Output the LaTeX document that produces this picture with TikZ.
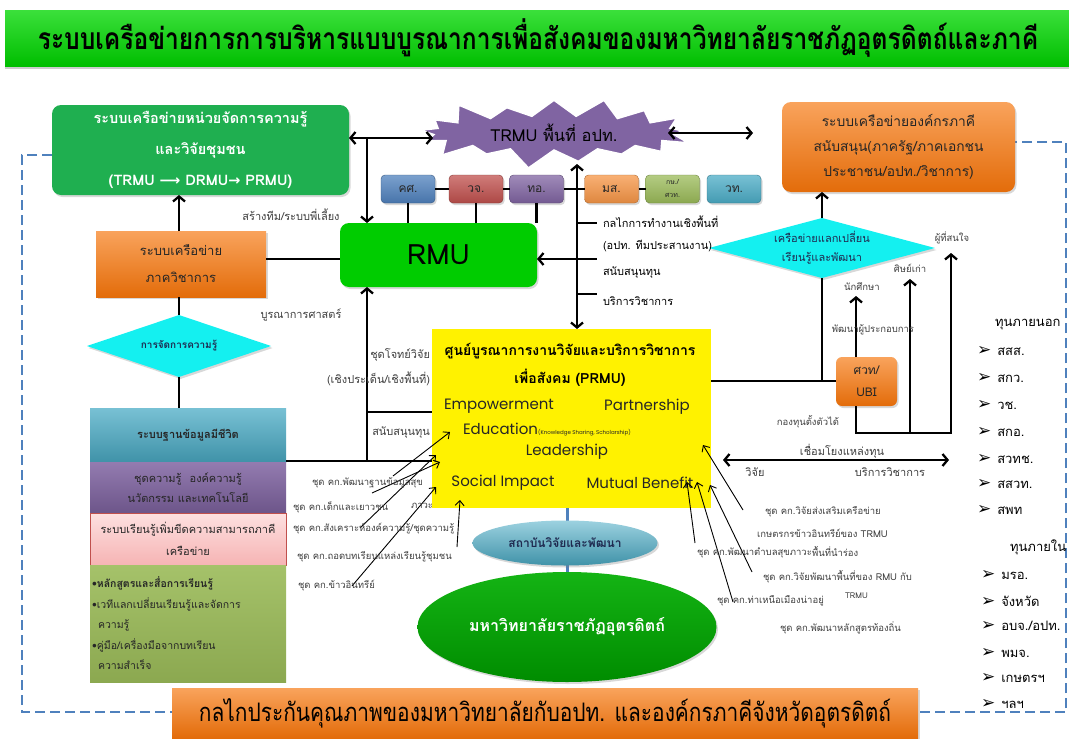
\documentclass[tikz,border=0pt]{standalone}
\usepackage{fontspec}
\setmainfont{Loma}[Script=Thai]
\newfontfamily\engfont{Poppins}
\newfontfamily\symfont{DejaVu Sans}
\newfontfamily\condfont{Loma}[Script=Thai,FakeStretch=0.82]
\usetikzlibrary{shapes.geometric,shapes.symbols,arrows.meta,shadows}
\definecolor{tgreenA}{HTML}{3BE03B}
\definecolor{tgreenB}{HTML}{00BE00}
\definecolor{kmgreen}{HTML}{1FAF50}
\definecolor{rmugreen}{HTML}{00CC00}
\definecolor{orangeA}{HTML}{F9A35C}
\definecolor{orangeB}{HTML}{E36C0A}
\definecolor{orangeC}{HTML}{F79646}
\definecolor{purp}{HTML}{8064A2}
\definecolor{blueA}{HTML}{4F81BD}
\definecolor{redA}{HTML}{C0504D}
\definecolor{oliveA}{HTML}{9BBB59}
\definecolor{aqua}{HTML}{4BACC6}
\definecolor{cyanD}{HTML}{14F0F0}
\definecolor{lblc}{HTML}{404040}
\definecolor{darktxt}{HTML}{262626}
\definecolor{navytxt}{HTML}{1F2A50}
\definecolor{pinkA}{HTML}{FDE0E0}
\definecolor{pinkB}{HTML}{F6B4B4}
\definecolor{ugreenA}{HTML}{14B414}
\definecolor{ugreenB}{HTML}{008C00}
\tikzset{
  x=1pt,y=-1pt,
  every node/.style={inner sep=0pt,outer sep=0pt,align=center},
  lbl/.style={font=\fontsize{11}{13}\selectfont,text=lblc},
  slbl/.style={font=\fontsize{9.5}{11}\selectfont,text=lblc},
  fundtxt/.style={anchor=west,font=\fontsize{13}{15}\selectfont,text=black},
  eng/.style={font=\engfont\fontsize{15}{17}\selectfont,text=darktxt},
  conn/.style={line width=2.3pt,black},
  arr/.style={conn,-{Straight Barb[length=5pt,width=12pt]}},
  darr/.style={conn,{Straight Barb[length=5pt,width=12pt]}-{Straight Barb[length=5pt,width=12pt]}},
  farr/.style={line width=0.9pt,black,-{Straight Barb[length=5pt,width=9pt]}},
  shad/.style={drop shadow={opacity=0.3,shadow xshift=1.5pt,shadow yshift=-2pt}},
  btn/.style={rounded corners=4pt,minimum width=54pt,minimum height=28pt,draw=#1!70!black,line width=0.4pt,top color=#1!75!white,bottom color=#1!90!black,font=\fontsize{12}{14}\selectfont,text=darktxt,shad},
}
\newcommand{\arrowmark}{{\symfont\fontsize{17}{15}\selectfont ➢}\hspace{6pt}}
\begin{document}
\begin{tikzpicture}
\useasboundingbox (0,0) rectangle (1069,739);
\fill[white] (0,0) rectangle (1069,739);
% dashed frame
\draw[blueA,line width=2.6pt,dash pattern=on 10pt off 5pt] (52,155) -- (22,155) -- (22,712) -- (1066,712) -- (1066,142) -- (1015,142);

% title
\node[minimum width=1066pt,minimum height=56pt,top color=tgreenA,bottom color=tgreenB,drop shadow={opacity=0.4,shadow xshift=0pt,shadow yshift=-2.5pt},font=\condfont\bfseries\fontsize{30}{32}\selectfont,text=black] (title) at (538,38) {ระบบเครือข่ายการการบริหารแบบบูรณาการเพื่อสังคมของมหาวิทยาลัยราชภัฏอุตรดิตถ์และภาคี};

% main boxes
\node[rounded corners=9pt,minimum width=297pt,minimum height=90pt,fill=kmgreen,shad,text=white,font=\bfseries\fontsize{14.5}{31}\selectfont] (km) at (200.5,150) {ระบบเครือข่ายหน่วยจัดการความรู้\\และวิจัยชุมชน\\(TRMU {\symfont ⟶} DRMU{\symfont →} PRMU)};
\node[starburst,starburst points=17,starburst point height=22pt,minimum width=285pt,minimum height=78pt,fill=purp,draw=white,line width=1.5pt,font=\fontsize{16.5}{18}\selectfont,text=black] (star) at (554,133) {TRMU พื้นที่ อปท.};
\node[rounded corners=9pt,minimum width=233pt,minimum height=90pt,top color=orangeA,bottom color=orangeB,shad,font=\fontsize{13.8}{25}\selectfont,text=darktxt] (part) at (898.5,147) {ระบบเครือข่ายองค์กรภาคี\\สนับสนุน(ภาครัฐ/ภาคเอกชน\\ประชาชน/อปท./วิชาการ)};

\node[btn=blueA] (b1) at (408,189) {คศ.};
\node[btn=redA] (b2) at (476,189) {วจ.};
\node[btn=purp] (b3) at (536.5,189) {ทอ.};
\node[btn=orangeC] (b4) at (611.5,189) {มส.};
\node[btn=oliveA,font=\fontsize{7}{13}\selectfont] (b5) at (672.5,189) {กษ./\\ศวท.};
\node[btn=aqua] (b6) at (734,189) {วท.};

\node[rounded corners=9pt,minimum width=197pt,minimum height=64pt,fill=rmugreen,shad,font=\fontsize{28}{30}\selectfont,text=black] (rmu) at (438.5,255) {RMU};
\node[minimum width=170pt,minimum height=66pt,top color=orangeA,bottom color=orangeB,shad,font=\fontsize{13}{27}\selectfont,text=darktxt] (acad) at (181,264) {ระบบเครือข่าย\\ภาควิชาการ};
\node[diamond,aspect=3,minimum width=184pt,minimum height=62pt,fill=cyanD,shad,font=\bfseries\fontsize{10}{12}\selectfont,text=navytxt] (kmd) at (179,346) {การจัดการความรู้};

% left stack
\node[minimum width=196pt,minimum height=54pt,top color=aqua!75!white,bottom color=aqua!85!black,font=\bfseries\fontsize{11}{13}\selectfont,text=darktxt] (s1) at (188,435) {ระบบฐานข้อมูลมีชีวิต};
\node[minimum width=196pt,minimum height=51pt,top color=purp!85!white,bottom color=purp!85!black,font=\fontsize{11}{20}\selectfont,text=darktxt] (s2) at (188,487.5) {ชุดความรู้\hspace{8pt}องค์ความรู้\\นวัตกรรม และเทคโนโลยี};
\node[minimum width=196pt,minimum height=52pt,top color=pinkA,bottom color=pinkB,draw=redA,line width=0.8pt,font=\fontsize{11}{22}\selectfont,text=darktxt] (s3) at (188,539) {ระบบเรียนรู้เพิ่มขีดความสามารถภาคี\\เครือข่าย};
\node[minimum width=196pt,minimum height=117pt,top color=oliveA!90!white,bottom color=oliveA!90!black,text width=192pt,align=left,font=\fontsize{10.5}{20.5}\selectfont,text=darktxt] (s4) at (188,623.5) {{\bfseries •หลักสูตรและสื่อการเรียนรู้}\\•เวทีแลกเปลี่ยนเรียนรู้และจัดการ\\\hspace*{6pt}ความรู้\\•คู่มือ/เครื่องมือจากบทเรียน\\\hspace*{6pt}ความสำเร็จ};

% yellow center
\node[minimum width=279pt,minimum height=179pt,fill=yellow] (prmu) at (571.5,418.5) {};
\node[font=\bfseries\fontsize{14}{16}\selectfont,text=black] (p1) at (570,351) {ศูนย์บูรณาการงานวิจัยและบริการวิชาการ};
\node[font=\bfseries\fontsize{14}{16}\selectfont,text=black] (p2) at (570,378) {เพื่อสังคม (PRMU)};
\node[eng,anchor=west] (e1) at (444,406) {Empowerment};
\node[eng] (e2) at (647,407) {Partnership};
\node[eng,anchor=west] (e3) at (463,430) {Education{\fontsize{5.5}{6}\selectfont(Knowledge Sharing, Scholarship)}};
\node[eng] (e4) at (567,452) {Leadership};
\node[eng] (e5) at (503,483) {Social Impact};
\node[eng] (e6) at (640,483) {Mutual Benefit};

% right side
\node[rounded corners=6pt,minimum width=61pt,minimum height=49pt,top color=orangeA,bottom color=orangeB,shad,font=\fontsize{12}{22}\selectfont,text=darktxt] (ubi) at (866.5,381.5) {ศวท/\\UBI};
\node[diamond,aspect=3.7,minimum width=226pt,minimum height=60pt,fill=cyanD,shad,font=\fontsize{11}{19}\selectfont,text=navytxt] (xd) at (822,248) {เครือข่ายแลกเปลี่ยน\\เรียนรู้และพัฒนา};

% ---------- connectors ----------
\coordinate (starL) at (433,138);
\draw[darr] (km.east |- starL) -- (starL);
\coordinate (jA) at (367,138);
\draw[arr] (jA) -- (jA |- rmu.north);
\coordinate (starR) at (668,133);
\coordinate (partL) at (753,133);
\draw[darr] (starR) -- (partL);
\coordinate (vtop) at (577,164);
\draw[darr] (vtop) -- (vtop |- prmu.north);
\coordinate (tk1) at (597,223);
\coordinate (tk2) at (597,259);
\coordinate (tk3) at (597,294);
\draw[conn] (vtop |- tk1) -- (tk1);
\draw[conn] (vtop |- tk3) -- (tk3);
\draw[conn] (vtop |- tk2) -- (tk2);
\draw[arr] (vtop |- tk2) -- (tk2 -| rmu.east);
\draw[conn] (b1.east) -- (b2.west);
\draw[conn] (b2.east) -- (b3.west);
\draw[conn] (b3.east) -- (b4.west);
\draw[conn] (b4.east) -- (b5.west);
\draw[conn] (b1.south) -- (b1.south |- rmu.north);
\draw[conn] (b2.south) -- (b2.south |- rmu.north);
\draw[conn] (b3.south) -- (b3.south |- rmu.north);
\coordinate (ra) at (300,259);
\draw[conn] (ra -| acad.east) -- (ra -| rmu.west);
\coordinate (cx) at (179,0);
\draw[arr] (cx |- acad.north) -- (cx |- km.south);
\draw[conn] (cx |- acad.south) -- (kmd.north);
\draw[conn] (kmd.south) -- (kmd.south |- s1.north);
\coordinate (vl) at (367,461);
\draw[arr] (vl) -- (vl |- rmu.south);
\coordinate (hl1) at (367,412);
\draw[conn] (hl1) -- (hl1 -| prmu.west);
\coordinate (hl2) at (300,461);
\draw[conn] (hl2 -| s1.east) -- (hl2 -| prmu.west);
% right connectors
\coordinate (py) at (760,381);
\draw[conn] (py -| prmu.east) -- (py -| ubi.west);
\coordinate (dj) at (822,381);
\draw[conn] (dj) -- (xd.south);
\draw[arr] (xd.north) -- (xd.north |- part.south);
\coordinate (stu) at (856,296);
\draw[arr] (stu |- ubi.north) -- (stu);
\coordinate (lb) at (856,433);
\coordinate (rb) at (951,433);
\coordinate (rt) at (951,253);
\draw[arr] (lb |- ubi.south) -- (lb) -- (rb) -- (rt);
\coordinate (mb) at (910,433);
\coordinate (mt) at (910,279);
\draw[arr] (mb) -- (mt);
\coordinate (fl) at (723,460);
\coordinate (fr) at (949,460);
\draw[darr] (fl) -- (fr);

% thin arrows left
\coordinate (la1) at (393,476); \coordinate (lt1) at (450,432);
\coordinate (la2) at (372,493); \coordinate (lt2) at (440,462);
\coordinate (la3) at (360,528); \coordinate (lt3) at (436,455);
\coordinate (la4) at (352,586); \coordinate (lt4) at (436,487);
\coordinate (la5) at (457,547); \coordinate (lt5) at (460,500);
\foreach \i in {1,...,5} {\draw[farr] (la\i) -- (lt\i);}
% thin arrows right
\coordinate (ra1) at (743,510); \coordinate (rt1) at (703,445);
\coordinate (ra2) at (695,543); \coordinate (rt2) at (687,482);
\coordinate (ra3) at (733,602); \coordinate (rt3) at (697,482);
\coordinate (ra4) at (752,572); \coordinate (rt4) at (710,485);
\foreach \i in {1,...,4} {\draw[farr] (ra\i) -- (rt\i);}

% lower ellipses
\node[ellipse,minimum width=299pt,minimum height=110pt,top color=ugreenA,bottom color=ugreenB,shad,font=\bfseries\fontsize{16}{18}\selectfont,text=white] (uru) at (567,627) {มหาวิทยาลัยราชภัฏอุตรดิตถ์};
\draw[blueA,line width=3pt] (prmu.south -| uru.north) -- (uru.north);
\node[ellipse,minimum width=185pt,minimum height=45pt,top color=aqua!55!white,bottom color=aqua!85!black,shad,font=\bfseries\fontsize{12}{14}\selectfont,text=navytxt] (rdi) at (565,543) {สถาบันวิจัยและพัฒนา};

% bottom banner
\node[minimum width=746pt,minimum height=50pt,top color=orangeA,bottom color=orangeB,shad,font=\condfont\fontsize{25.5}{27}\selectfont,text=black] (qa) at (545,713) {กลไกประกันคุณภาพของมหาวิทยาลัยกับอปท. และองค์กรภาคีจังหวัดอุตรดิตถ์};

% ---------- labels ----------
\node[lbl] (l1) at (291,215) {สร้างทีม/ระบบพี่เลี้ยง};
\node[lbl] (l2) at (301,315) {บูรณาการศาสตร์};
\node[lbl,anchor=east] (l3) at (430,355) {ชุดโจทย์วิจัย};
\node[lbl,anchor=east] (l4) at (430,379) {(เชิงประเด็น/เชิงพื้นที่)};
\node[lbl,anchor=east] (l5) at (430,433) {สนับสนุนทุน};
\node[lbl,anchor=west,text=black] (l6) at (603,222) {กลไกการทำงานเชิงพื้นที่};
\node[lbl,anchor=west,text=black] (l7) at (603,246) {(อปท. ทีมประสานงาน)};
\node[lbl,anchor=west,text=black] (l8) at (603,273) {สนับสนุนทุน};
\node[lbl,anchor=west,text=black] (l9) at (603,301) {บริการวิชาการ};
\node[slbl] (l10) at (862,287) {นักศึกษา};
\node[slbl] (l11) at (910,268) {ศิษย์เก่า};
\node[slbl] (l12) at (952,238) {ผู้ที่สนใจ};
\node[slbl] (l13) at (873,330) {พัฒนาผู้ประกอบการ};
\node[slbl] (l14) at (808,422) {กองทุนตั้งตัวได้};
\node[lbl] (l15) at (842,451) {เชื่อมโยงแหล่งทุน};
\node[lbl] (l16) at (755,472) {วิจัย};
\node[lbl] (l17) at (890,472) {บริการวิชาการ};

\node[slbl,anchor=west] (m1) at (312,483) {ชุด คก.พัฒนาฐานข้อมูลสุข};
\node[slbl,anchor=west] (m2) at (411,506) {ภาวะ};
\node[slbl,anchor=west] (m3) at (293,507) {ชุด คก.เด็กและเยาวชน};
\node[slbl,anchor=west] (m4) at (293,529) {ชุด คก.สังเคราะห์องค์ความรู้/ชุดความรู้};
\node[slbl,anchor=west] (m5) at (297,557) {ชุด คก.ถอดบทเรียนแหล่งเรียนรู้ชุมชน};
\node[slbl,anchor=west] (m6) at (298,586) {ชุด คก.ข้าวอินทรีย์};

\node[slbl,anchor=west] (n1) at (765,512) {ชุด คก.วิจัยส่งเสริมเครือข่าย};
\node[slbl,anchor=west] (n2) at (757,533) {เกษตรกรข้าวอินทรีย์ของ TRMU};
\node[slbl,anchor=west] (n3) at (697,553) {ชุด คก.พัฒนาตำบลสุขภาวะ};
\node[slbl,anchor=west] (n4) at (812,551) {พื้นที่นำร่อง};
\node[slbl,anchor=west] (n5) at (763,577) {ชุด คก.วิจัยพัฒนาพื้นที่ของ RMU กับ};
\node[slbl,anchor=west] (n6) at (717,601) {ชุด คก.ท่าเหนือเมืองน่าอยู่};
\node[slbl,anchor=west,font=\fontsize{8}{9}\selectfont] (n7) at (845,596) {TRMU};
\node[slbl,anchor=west] (n8) at (780,628) {ชุด คก.พัฒนาหลักสูตรท้องถิ่น};

% funding lists
\node[anchor=west,font=\fontsize{13}{15}\selectfont] (ext) at (995,325) {ทุนภายนอก};
\node[fundtxt] (x1) at (977,351) {\arrowmark สสส.};
\node[fundtxt] (x2) at (977,378) {\arrowmark สกว.};
\node[fundtxt] (x3) at (977,405) {\arrowmark วช.};
\node[fundtxt] (x4) at (977,432) {\arrowmark สกอ.};
\node[fundtxt] (x5) at (977,459) {\arrowmark สวทช.};
\node[fundtxt] (x6) at (977,484) {\arrowmark สสวท.};
\node[fundtxt] (x7) at (977,510) {\arrowmark สพท};
\node[anchor=west,font=\fontsize{13}{15}\selectfont] (int) at (1010,547) {ทุนภายใน};
\node[fundtxt] (y1) at (981,575) {\arrowmark มรอ.};
\node[fundtxt] (y2) at (981,601) {\arrowmark จังหวัด};
\node[fundtxt] (y3) at (981,626) {\arrowmark อบจ./อปท.};
\node[fundtxt] (y4) at (981,653) {\arrowmark พมจ.};
\node[fundtxt] (y5) at (981,678) {\arrowmark เกษตรฯ};
\node[fundtxt] (y6) at (981,704) {\arrowmark ฯลฯ};
\end{tikzpicture}
\end{document}
